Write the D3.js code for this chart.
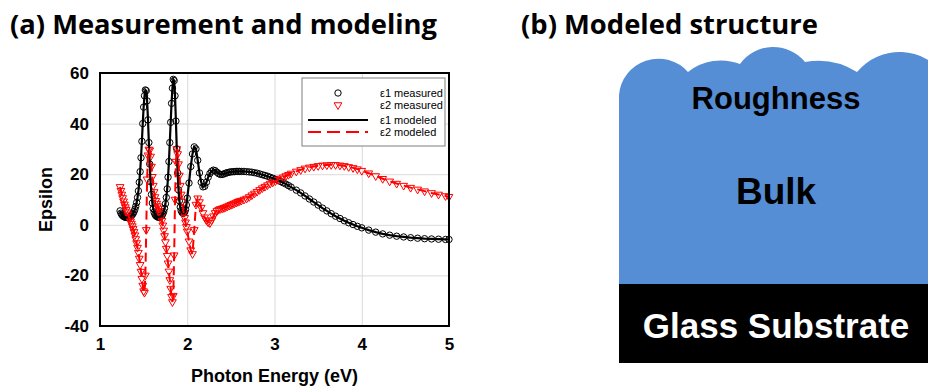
<!DOCTYPE html>
<html>
<head>
<meta charset="utf-8">
<script src="https://cdn.jsdelivr.net/npm/d3@7"></script>
<style>
  body { margin: 0; background: #fff; }
  svg { display: block; }
  .title { font-family: "Open Sans", "Noto Sans", sans-serif; font-weight: 700; font-size: 26px; }
  .tick text { font-family: "Liberation Sans", Arial, sans-serif; font-weight: 700; font-size: 17px; fill: #000; }
  .axis-label { font-family: "Liberation Sans", Arial, sans-serif; font-weight: 700; font-size: 18px; }
  .legend text { font-family: "Liberation Sans", Arial, sans-serif; font-size: 11px; }
  .layer { font-family: "Liberation Sans", Arial, sans-serif; font-weight: 700; }
</style>
</head>
<body>
<svg id="chart" width="928" height="389"></svg>
<script>
// photon energy (eV)
const energy = [
  1.23, 1.24, 1.25, 1.26, 1.27, 1.28, 1.29, 1.30, 1.31, 1.32,
  1.33, 1.34, 1.35, 1.36, 1.37, 1.38, 1.39, 1.40, 1.41, 1.42,
  1.43, 1.44, 1.45, 1.46, 1.47, 1.48, 1.49, 1.50, 1.51, 1.52,
  1.53, 1.54, 1.55, 1.56, 1.57, 1.58, 1.59, 1.60, 1.61, 1.62,
  1.63, 1.64, 1.65, 1.66, 1.67, 1.68, 1.69, 1.70, 1.71, 1.72,
  1.73, 1.74, 1.75, 1.76, 1.77, 1.78, 1.79, 1.80, 1.81, 1.82,
  1.83, 1.84, 1.85, 1.86, 1.87, 1.88, 1.89, 1.90, 1.91, 1.92,
  1.93, 1.94, 1.95, 1.96, 1.97, 1.98, 1.99, 2.00, 2.02, 2.04,
  2.06, 2.08, 2.10, 2.12, 2.14, 2.16, 2.18, 2.20, 2.22, 2.24,
  2.26, 2.28, 2.30, 2.32, 2.34, 2.36, 2.38, 2.40, 2.42, 2.44,
  2.46, 2.48, 2.50, 2.52, 2.54, 2.56, 2.58, 2.60, 2.62, 2.65,
  2.68, 2.71, 2.74, 2.77, 2.80, 2.83, 2.86, 2.89, 2.92, 2.95,
  2.98, 3.01, 3.04, 3.07, 3.10, 3.13, 3.16, 3.19, 3.25, 3.30,
  3.35, 3.40, 3.45, 3.50, 3.55, 3.60, 3.65, 3.70, 3.75, 3.80,
  3.85, 3.90, 3.95, 4.00, 4.08, 4.16, 4.24, 4.32, 4.40, 4.48,
  4.56, 4.64, 4.72, 4.80, 4.88, 4.96, 5.00
];

// ε1 (measured, fit lies on top of it)
const eps1 = [
  5.5, 4.6, 4.0, 3.6, 3.3, 3.1, 3.0, 2.9, 2.9, 2.9,
  3.0, 3.1, 3.3, 3.6, 4.0, 4.5, 5.2, 6.1, 7.3, 8.8,
  10.8, 13.4, 16.8, 21.0, 26.5, 33.0, 40.0, 46.5, 51.0, 53.3,
  53.0, 49.0, 41.5, 32.5, 24.0, 17.0, 12.0, 8.6, 6.4, 5.0,
  4.1, 3.6, 3.3, 3.1, 3.0, 3.0, 3.1, 3.3, 3.7, 4.3,
  5.2, 6.5, 8.3, 10.8, 14.2, 18.8, 25.0, 32.5, 40.5, 48.0,
  54.0, 57.5, 57.0, 51.0, 41.0, 30.0, 20.5, 13.8, 9.5, 7.0,
  5.6, 4.9, 4.6, 4.6, 5.0, 6.0, 7.8, 10.5, 16.5, 23.0,
  28.0, 30.8, 30.0, 25.5, 20.5, 16.8, 15.0, 15.2, 16.8, 18.8,
  20.3, 21.2, 21.6, 21.4, 20.8, 20.2, 19.9, 19.9, 20.1, 20.4,
  20.6, 20.8, 20.9, 21.0, 21.0, 21.1, 21.1, 21.1, 21.1, 21.1,
  21.0, 20.9, 20.8, 20.6, 20.4, 20.1, 19.8, 19.5, 19.2, 18.8,
  18.4, 18.0, 17.6, 17.1, 16.6, 16.1, 15.5, 14.9, 13.7, 12.6,
  11.4, 10.2, 9.0, 7.8, 6.6, 5.5, 4.4, 3.4, 2.5, 1.6,
  0.8, 0.1, -0.6, -1.2, -2.1, -2.9, -3.6, -4.1, -4.5, -4.8,
  -5.1, -5.3, -5.5, -5.6, -5.7, -5.8, -5.8
];

// ε2 (measured, fit lies on top of it)
const eps2 = [
  15.0, 13.5, 12.0, 10.6, 9.3, 8.1, 7.0, 6.0, 5.0, 4.1,
  3.2, 2.3, 1.4, 0.5, -0.5, -1.6, -2.8, -4.1, -5.6, -7.2,
  -9.0, -11.0, -13.3, -15.8, -18.5, -21.3, -24.0, -26.2, -26.8, -20.0,
  -2.0, 18.0, 27.5, 29.8, 29.5, 27.0, 23.0, 19.0, 15.5, 13.0,
  11.0, 9.5, 8.4, 7.4, 6.5, 5.5, 4.4, 3.1, 1.6, -0.2,
  -2.2, -4.4, -6.8, -9.4, -12.2, -15.2, -18.4, -21.8, -25.2, -28.4,
  -30.5, -28.0, -12.0, 10.0, 25.0, 30.0, 28.0, 24.0, 19.5, 15.5,
  12.0, 9.2, 6.8, 4.7, 2.8, 1.0, -0.8, -2.6, -6.5, -10.0,
  -11.5, -2.0, 8.0, 10.5, 9.0, 6.8, 4.7, 3.0, 1.8, 1.0,
  0.7, 1.8, 3.4, 4.7, 5.5, 6.0, 6.3, 6.5, 6.7, 7.0,
  7.3, 7.6, 7.9, 8.2, 8.5, 8.8, 9.1, 9.4, 9.6, 10.0,
  10.4, 11.0, 11.7, 12.4, 13.1, 13.8, 14.5, 15.1, 15.7, 16.3,
  16.8, 17.3, 17.8, 18.3, 18.8, 19.3, 19.8, 20.3, 21.1, 21.7,
  22.3, 22.7, 23.0, 23.3, 23.5, 23.6, 23.7, 23.7, 23.5, 23.3,
  22.9, 22.5, 22.0, 21.4, 20.4, 19.3, 18.2, 17.2, 16.3, 15.5,
  14.7, 14.0, 13.3, 12.6, 12.0, 11.4, 11.1
];

const xTicks = [1, 2, 3, 4, 5];
const yTicks = [-40, -20, 0, 20, 40, 60];
const legendLabels = ['ε1 measured', 'ε2 measured', 'ε1 modeled', 'ε2 modeled'];
const layerNames = ['Roughness', 'Bulk', 'Glass Substrate'];

const svg = d3.select('#chart');
const plot = { left: 100, right: 449, top: 73, bottom: 326 };

const x = d3.scaleLinear().domain([1, 5]).range([plot.left, plot.right]);
const y = d3.scaleLinear().domain([-40, 60]).range([plot.bottom, plot.top]);

const pts = energy.map((e, i) => ({ e, e1: eps1[i], e2: eps2[i] }));

// panel titles
svg.append('text').attr('class', 'title').attr('x', 10).attr('y', 34)
  .attr('textLength', 427).attr('lengthAdjust', 'spacingAndGlyphs')
  .text('(a) Measurement and modeling');
svg.append('text').attr('class', 'title').attr('x', 521).attr('y', 34)
  .attr('textLength', 297).attr('lengthAdjust', 'spacingAndGlyphs')
  .text('(b) Modeled structure');

// grid
svg.append('g')
  .attr('transform', `translate(0,${plot.bottom})`)
  .call(d3.axisBottom(x).tickValues(xTicks.slice(1, -1)).tickSize(-(plot.bottom - plot.top)).tickFormat(''))
  .call(g => g.select('.domain').remove())
  .call(g => g.selectAll('line').attr('stroke', '#d9d9d9'));
svg.append('g')
  .attr('transform', `translate(${plot.left},0)`)
  .call(d3.axisLeft(y).tickValues(yTicks.slice(1, -1)).tickSize(-(plot.right - plot.left)).tickFormat(''))
  .call(g => g.select('.domain').remove())
  .call(g => g.selectAll('line').attr('stroke', '#d9d9d9'));

// tick labels
svg.append('g')
  .attr('transform', `translate(0,${plot.bottom})`)
  .call(d3.axisBottom(x).tickValues(xTicks).tickSize(0).tickPadding(12).tickFormat(d => String(d)))
  .call(g => g.select('.domain').remove());
svg.append('g')
  .attr('transform', `translate(${plot.left - 1},0)`)
  .call(d3.axisLeft(y).tickValues(yTicks).tickSize(0).tickPadding(10).tickFormat(d => String(d)))
  .call(g => g.select('.domain').remove());

// data
svg.append('g')
  .selectAll('circle')
  .data(pts)
  .join('circle')
  .attr('cx', d => x(d.e))
  .attr('cy', d => y(d.e1))
  .attr('r', 3.2)
  .attr('fill', 'none')
  .attr('stroke', '#000')
  .attr('stroke-width', 1);

const tri = d3.symbol(d3.symbolTriangle, 26);
svg.append('g')
  .selectAll('path')
  .data(pts)
  .join('path')
  .attr('d', tri)
  .attr('transform', d => `translate(${x(d.e)},${y(d.e2)}) rotate(180)`)
  .attr('fill', 'none')
  .attr('stroke', '#ff0000')
  .attr('stroke-width', 1);

const line1 = d3.line().x(d => x(d.e)).y(d => y(d.e1));
const line2 = d3.line().x(d => x(d.e)).y(d => y(d.e2));
svg.append('path').datum(pts).attr('d', line1)
  .attr('fill', 'none').attr('stroke', '#000').attr('stroke-width', 2.2);
svg.append('path').datum(pts).attr('d', line2)
  .attr('fill', 'none').attr('stroke', '#ff0000').attr('stroke-width', 2)
  .attr('stroke-dasharray', '9,5');

// frame
svg.append('rect')
  .attr('x', plot.left).attr('y', plot.top)
  .attr('width', plot.right - plot.left).attr('height', plot.bottom - plot.top)
  .attr('fill', 'none').attr('stroke', '#000').attr('stroke-width', 2);

svg.append('text').attr('class', 'axis-label')
  .attr('x', (plot.left + plot.right) / 2).attr('y', 382)
  .attr('text-anchor', 'middle').text('Photon Energy (eV)');
svg.append('text').attr('class', 'axis-label')
  .attr('transform', `translate(52,${(plot.top + plot.bottom) / 2}) rotate(-90)`)
  .attr('text-anchor', 'middle').text('Epsilon');

// legend
const legend = svg.append('g').attr('class', 'legend');
legend.append('rect').attr('x', 302).attr('y', 78).attr('width', 143).attr('height', 68)
  .attr('fill', '#fff').attr('stroke', '#7f7f7f').attr('stroke-width', 1);
const rowY = [93, 105, 120, 132];
legendLabels.forEach((lab, i) => {
  const ry = rowY[i];
  if (i === 0) {
    legend.append('circle').attr('cx', 338).attr('cy', ry).attr('r', 3.2)
      .attr('fill', 'none').attr('stroke', '#000');
  } else if (i === 1) {
    legend.append('path').attr('d', tri).attr('transform', `translate(338,${ry}) rotate(180)`)
      .attr('fill', 'none').attr('stroke', '#ff0000');
  } else {
    legend.append('line').attr('x1', 308).attr('x2', 368).attr('y1', ry).attr('y2', ry)
      .attr('stroke', i === 2 ? '#000' : '#ff0000').attr('stroke-width', 2)
      .attr('stroke-dasharray', i === 3 ? '13,6' : null);
  }
  legend.append('text').attr('x', 380).attr('y', ry).attr('dy', '0.35em').text(lab);
});

// (b) layer stack
const stack = { left: 619, right: 932, bulkBottom: 284, bottom: 363 };
// rough top surface: valleys between bumps, [x, y, sagitta of the arc ending here]
const surface = [[619, 95, 0], [688, 72, 24], [740, 64, 7], [805, 62, 16], [857, 72, 5], [945, 76, 22]];
const p = d3.path();
p.moveTo(stack.left, stack.bulkBottom);
p.lineTo(surface[0][0], surface[0][1]);
for (let i = 1; i < surface.length; i++) {
  const [x0, y0] = surface[i - 1];
  const [x1, y1, h] = surface[i];
  const c = Math.hypot(x1 - x0, y1 - y0);
  const r = (c * c / 4 + h * h) / (2 * h);
  const mx = (x0 + x1) / 2, my = (y0 + y1) / 2;
  const nx = -(y1 - y0) / c, ny = (x1 - x0) / c;
  const cx = mx + nx * (r - h), cy = my + ny * (r - h);
  p.arc(cx, cy, r, Math.atan2(y0 - cy, x0 - cx), Math.atan2(y1 - cy, x1 - cx), false);
}
p.lineTo(stack.right, stack.bulkBottom);
p.closePath();
svg.append('path').attr('d', p.toString()).attr('fill', '#558ed5');

svg.append('rect').attr('x', stack.left).attr('y', stack.bulkBottom)
  .attr('width', stack.right - stack.left).attr('height', stack.bottom - stack.bulkBottom)
  .attr('fill', '#000');

const layerText = [
  { y: 109, size: 31, fill: '#000' },
  { y: 204, size: 37, fill: '#000' },
  { y: 338, size: 35, fill: '#fff' }
];
layerNames.forEach((name, i) => {
  svg.append('text').attr('class', 'layer')
    .attr('x', 776).attr('y', layerText[i].y)
    .attr('text-anchor', 'middle')
    .attr('font-size', layerText[i].size)
    .attr('fill', layerText[i].fill)
    .text(name);
});
</script>
</body>
</html>
